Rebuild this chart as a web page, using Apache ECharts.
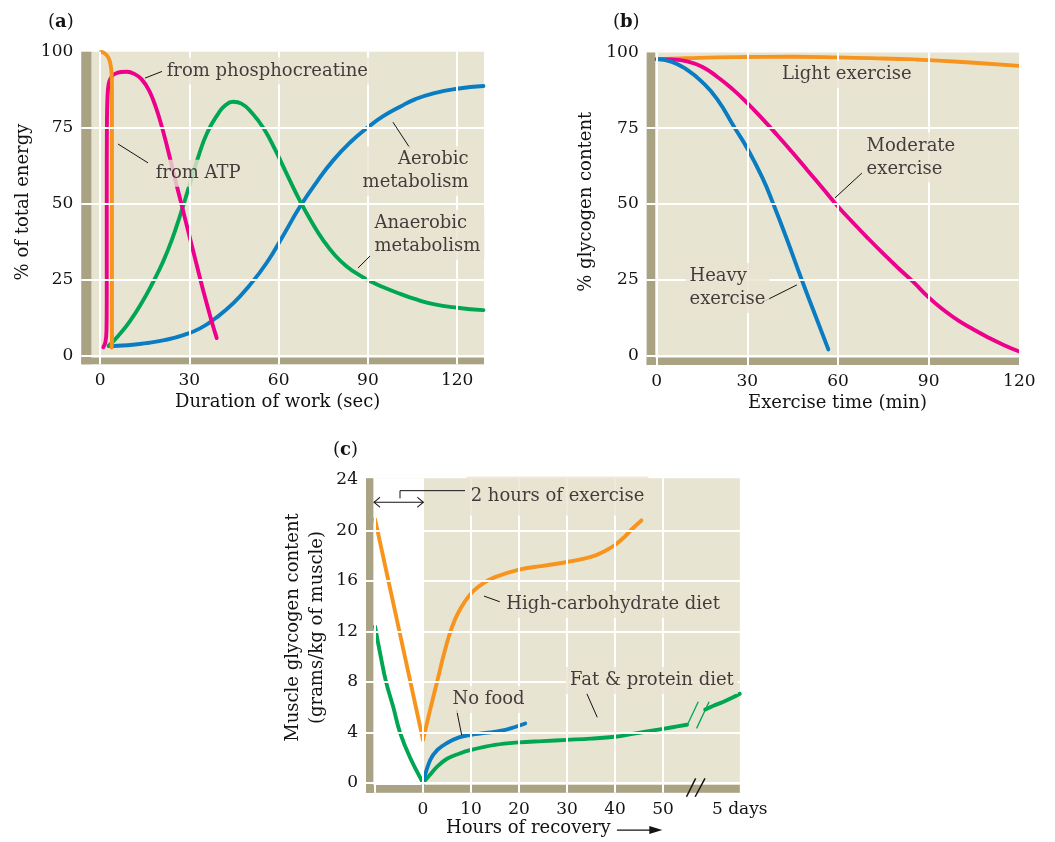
<!DOCTYPE html>
<html><head><meta charset="utf-8">
<script src="https://cdn.jsdelivr.net/npm/echarts@6/dist/echarts.min.js"></script>
<style>html,body{margin:0;padding:0;background:#fff}#c{width:1055px;height:842px}</style>
</head><body><div id="c"></div>
<script>
// ---------- DATA ----------
// Panel (a): % of total energy vs duration of work (sec)
const aXTicks = [0, 30, 60, 90, 120];
const aYTicks = [0, 25, 50, 75, 100];
const aXGrid = [0, 30, 60, 90, 120];
const aYGrid = [0, 25, 50, 75];
const fromATP = [[0.3,100],[1.5,99.6],[2.7,98.3],[3.5,96],[3.9,92.5],[4.0,87],[4.0,70],[4.0,40],[4.0,15],[4.0,5],[3.85,2.7]];
const fromPhosphocreatine = [[1.1,2.8],[1.8,4.5],[2.15,8],[2.25,20],[2.25,50],[2.3,75],[2.5,85],[2.9,89.5],[3.8,91.8],[5,92.8],[7,93.4],[9,93.5],[11.5,92.8],[14,91],[16.5,87.3],[18.5,82.5],[20.5,76.3],[22.5,69],[25,59],[27.5,49.3],[30,39.5],[32.5,29.8],[35,20.2],[37.3,12],[39.2,5.8]];
const anaerobicA = [[2.9,3.2],[6,6.4],[10,11.3],[14,17.4],[18,24.6],[21,30.6],[24,37.8],[27,46.5],[30,56],[33,65.5],[36,73.4],[39.5,79.4],[42,82.4],[44.8,83.6],[47.5,83],[51,80],[55,74.8],[59,67.5],[63,59.3],[67,51.3],[71,44.2],[75,38],[79,33],[83,29.3],[87,26.6],[91,24.4],[95,22.6],[101,20.3],[106,18.6],[112,17],[120,15.8],[128.8,15]];
const aerobicA = [[2.9,3.2],[6,3.3],[11,3.6],[16,4.2],[22,5.2],[28,6.8],[33.6,9],[39,12.5],[44.8,17.3],[50,22.9],[56,30.6],[61.5,39.5],[67.2,49.1],[73,57.5],[78.4,64.4],[84,70.2],[89.6,74.9],[95,78.8],[100.8,82],[106,84.5],[112,86.4],[120,87.9],[128.8,88.8]];

// Panel (b): % glycogen content vs exercise time (min)
const bXTicks = [0, 30, 60, 90, 120];
const bYTicks = [0, 25, 50, 75, 100];
const bXGrid = [0, 30, 60, 90, 120];
const bYGrid = [0, 25, 50, 75];
const lightExercise = [[0,97.8],[10,98.1],[20,98.4],[30,98.5],[45,98.6],[60,98.4],[75,98.0],[90,97.5],[105,96.6],[120,95.6]];
const moderateExercise = [[0,97.8],[5,97.7],[10,97.1],[15,95.3],[20,92],[25,88],[30,83.3],[35,78.1],[40,72.6],[45,66.9],[50,61],[55,55.1],[60,49.2],[65,43.8],[70,38.6],[75,33.6],[80,28.8],[85,24.2],[90,19.2],[95,15],[100,11.4],[105,8.5],[110,5.8],[115,3.4],[120,1.3]];
const heavyExercise = [[0,97.8],[5,96.9],[10,94.3],[15,90.3],[20,84.6],[25.9,75],[30,68.3],[35,58.6],[38.6,50],[43,38.6],[48,25],[52,14.5],[56.8,2]];

// Panel (c): muscle glycogen (g/kg) vs hours of recovery
const cXTicks = [0, 10, 20, 30, 40, 50, 66];
const cXTickLabels = ['0', '10', '20', '30', '40', '50', '5 days'];
const cYTicks = [0, 4, 8, 12, 16, 20, 24];
const cXGrid = [-10, 0, 10, 20, 30, 40, 50];
const cYGrid = [0, 4, 8, 12, 16, 20];
const highCarbExercise = [[-10,20.9],[0,3.4]];
const highCarbRecovery = [[0,3.4],[1.5,5.8],[3,8.1],[4.5,10.4],[6,12.3],[7.5,13.6],[10,15],[12.5,15.8],[15,16.3],[20,16.9],[25,17.2],[30,17.5],[35,17.9],[38,18.4],[40,18.85],[42,19.5],[43.5,20.1],[45.5,20.8]];
const fatProteinExercise = [[-10,12.4],[-8.8,10],[-7.7,8],[-6.2,6],[-4.8,4],[-2.7,2],[0,0]];
const fatProteinRecovery = [[0,0],[1.5,0.65],[3,1.3],[5,1.9],[7.5,2.3],[10,2.6],[15,3.0],[20,3.2],[25,3.3],[30,3.4],[35,3.5],[40,3.65],[44,3.9],[48,4.15],[52,4.4],[55,4.6]];
const fatProteinDays = [[58.8,5.8],[60.5,6.1],[62.5,6.4],[64.5,6.75],[66,7.05]];
const noFood = [[0,0],[1.5,1.8],[3,2.6],[5,3.15],[7.5,3.6],[10,3.8],[13,3.95],[16,4.1],[19,4.4],[21.3,4.7]];

// ---------- STYLE / LAYOUT ----------
const FONT = 'DejaVu Serif';
const INK = '#141214';
const BEIGE = '#e8e4d2';
const KHAKI = '#a9a384';
const ORANGE = '#f7941e', MAGENTA = '#ec008c', GREEN = '#00a651', BLUE = '#0a7cc2';

const ext = [
  {x:[-6.3,129], y:[-2.83,100.1], leftStrip:-2.92, bottomStrip:-0.66},
  {x:[-3.31,120], y:[-3.14,100], leftStrip:-0.56, bottomStrip:-0.73},
  {x:[-11.875,66], y:[-0.79,24.14], leftStrip:-10.35, bottomStrip:-0.18}
];

function curve(g, data, color, smooth) {
  return {type:'line', xAxisIndex:g, yAxisIndex:g, data:data, smooth:smooth === undefined ? 0.5 : smooth,
    symbol:'none', silent:true, z:3, lineStyle:{color:color, width:3.9, cap:'round', join:'round'}};
}
function thin(g, data, color, width, extra) {
  return Object.assign({type:'line', xAxisIndex:g, yAxisIndex:g, data:data, symbol:'none', silent:true, z:9,
    lineStyle:{color:color, width:width}}, extra || {});
}
function backdrop(g, white) {
  const e = ext[g];
  const areas = [];
  if (white) areas.push([{coord:[e.leftStrip, e.bottomStrip], itemStyle:{color:'#ffffff'}}, {coord:[0, e.y[1]]}]);
  areas.push([{coord:[e.x[0], e.y[0]], itemStyle:{color:KHAKI}}, {coord:[e.leftStrip, e.y[1]]}]);
  areas.push([{coord:[e.x[0], e.y[0]], itemStyle:{color:KHAKI}}, {coord:[e.x[1], e.bottomStrip]}]);
  return {type:'line', xAxisIndex:g, yAxisIndex:g, data:[], z:1, silent:true,
    markArea:{silent:true, itemStyle:{opacity:1}, data:areas}};
}
function gridLines(g, xs, ys) {
  return {type:'line', xAxisIndex:g, yAxisIndex:g, data:[], z:2, silent:true,
    markLine:{silent:true, symbol:['none','none'], label:{show:false}, animation:false,
      lineStyle:{color:'#ffffff', width:2, type:'solid', opacity:1},
      emphasis:{disabled:true},
      data: xs.map(v => ({xAxis:v})).concat(ys.map(v => ({yAxis:v})))}};
}
function notes(g, items) {
  return {type:'scatter', xAxisIndex:g, yAxisIndex:g, z:10, silent:true, symbolSize:1,
    itemStyle:{color:'transparent'},
    label:{show:true, position:[0,0], formatter:'{b}', verticalAlign:'middle', fontFamily:FONT, fontSize:18,
      color:INK, backgroundColor:BEIGE, padding:[2,4], lineHeight:23},
    data: items.map(it => ({name:it[0], value:[it[1], it[2]], label:Object.assign({align:it[3]}, it[4] || {})}))};
}
function xAxis(g, ticks, labels, name, gap, pad) {
  const e = ext[g];
  return {gridIndex:g, type:'value', min:e.x[0], max:e.x[1],
    axisLine:{show:false}, axisTick:{show:false}, splitLine:{show:false},
    axisLabel:{customValues:ticks, margin:8, fontFamily:FONT, fontSize:17, color:INK,
      formatter: v => { const i = ticks.indexOf(v); return labels && i >= 0 ? labels[i] : String(v); }},
    name:name, nameLocation:'middle', nameGap:gap,
    nameTextStyle:{fontFamily:FONT, fontSize:18, color:INK, padding:pad}};
}
function yAxis(g, ticks, name, gap, pad, lh) {
  const e = ext[g];
  return {gridIndex:g, type:'value', min:e.y[0], max:e.y[1],
    axisLine:{show:false}, axisTick:{show:false}, splitLine:{show:false},
    axisLabel:{customValues:ticks, margin:8, fontFamily:FONT, fontSize:17, color:INK},
    name:name, nameLocation:'middle', nameRotate:90, nameGap:gap,
    nameTextStyle:{fontFamily:FONT, fontSize:18, color:INK, padding:pad, lineHeight:lh || 22}};
}
function panelTitle(letter, left, top) {
  return {text:'({b|' + letter + '})', left:left, top:top, padding:0,
    textStyle:{fontFamily:FONT, fontSize:18, fontWeight:'normal', color:INK,
      rich:{b:{fontFamily:FONT, fontSize:18, fontWeight:'bold', color:INK}}}};
}

const option = {
  animation:false,
  backgroundColor:'#ffffff',
  title:[panelTitle('a', 48, 13), panelTitle('b', 613, 13), panelTitle('c', 333, 441)],
  grid:[
    {left:81.3, top:51.7, width:402.7, height:312.6, show:true, backgroundColor:BEIGE, borderWidth:0},
    {left:646.7, top:52.5, width:372.6, height:312.5, show:true, backgroundColor:BEIGE, borderWidth:0},
    {left:366, top:478.3, width:373.8, height:314.4, show:true, backgroundColor:BEIGE, borderWidth:0}
  ],
  xAxis:[
    xAxis(0, aXTicks, null, 'Duration of work (sec)', 29, [0,10,0,0]),
    xAxis(1, bXTicks, null, 'Exercise time (min)', 29, [0,0,0,9]),
    xAxis(2, cXTicks, cXTickLabels, 'Hours of recovery', 27, [0,49,0,0])
  ],
  yAxis:[
    yAxis(0, aYTicks, '% of total energy', 47, [0,0,0,12]),
    yAxis(1, bYTicks, '% glycogen content', 49, [0,0,0,14]),
    yAxis(2, cYTicks, 'Muscle glycogen content\n(grams/kg of muscle)', 37, [0,0,0,16], 24)
  ],
  series:[
    // panel a
    backdrop(0, false), gridLines(0, aXGrid, aYGrid),
    curve(0, aerobicA, BLUE), curve(0, anaerobicA, GREEN),
    curve(0, fromPhosphocreatine, MAGENTA, 0.4), curve(0, fromATP, ORANGE, 0.4),
    thin(0, [[15.1,91.4],[20.8,93.6]], INK, 1),
    thin(0, [[6.05,69.7],[16.1,63.5]], INK, 1),
    thin(0, [[98.4,76.9],[104.1,68.4]], INK, 1),
    thin(0, [[86.7,28.9],[90.7,32.8]], INK, 1),
    notes(0, [
      ['from phosphocreatine', 21.2, 93.6, 'left'],
      ['from ATP', 17.5, 59.9, 'left'],
      ['Aerobic\nmetabolism', 125.3, 60.6, 'right'],
      ['Anaerobic\nmetabolism', 91.0, 39.6, 'left']
    ]),
    // panel b
    backdrop(1, false), gridLines(1, bXGrid, bYGrid),
    curve(1, lightExercise, ORANGE), curve(1, moderateExercise, MAGENTA), curve(1, heavyExercise, BLUE),
    thin(1, [[59.0,52.0],[67.9,60.2]], INK, 1),
    thin(1, [[35.2,17.7],[46.4,23.3]], INK, 1),
    notes(1, [
      ['Light exercise', 63.1, 92.6, 'center'],
      ['Moderate\nexercise', 68.3, 65.2, 'left'],
      ['Heavy\nexercise', 9.7, 22.1, 'left']
    ]),
    // panel c
    backdrop(2, true), gridLines(2, cXGrid, cYGrid),
    curve(2, highCarbExercise, ORANGE, false), curve(2, highCarbRecovery, ORANGE, 0.4),
    curve(2, fatProteinExercise, GREEN, 0.4), curve(2, fatProteinRecovery, GREEN, 0.4),
    curve(2, fatProteinDays, GREEN, 0.4), curve(2, noFood, BLUE, 0.4),
    thin(2, [[55.06,4.58],[57.35,6.42]], GREEN, 1.3),
    thin(2, [[57.0,4.31],[59.6,6.42]], GREEN, 1.3),
    thin(2, [[54.9,-1.11],[56.8,0.35]], INK, 1.5, {clip:false}),
    thin(2, [[56.7,-1.11],[58.75,0.35]], INK, 1.5, {clip:false}),
    thin(2, [[8.75,23.16],[-4.79,23.16],[-4.79,22.55]], INK, 1),
    thin(2, [
      {value:[-10.2,22.24], symbol:'path://M7,0L0,5L7,10', symbolSize:[6,10], symbolOffset:[3,0]},
      {value:[0.06,22.24], symbol:'path://M0,0L7,5L0,10', symbolSize:[6,10], symbolOffset:[-3,0]}
    ], INK, 1, {showSymbol:true, symbol:'none', itemStyle:{color:'none', borderColor:INK, borderWidth:1}}),
    thin(2, [[40.4,-3.75], {value:[48.5,-3.75], symbol:'triangle', symbolSize:[8,13], symbolRotate:-90}], INK, 1.3,
      {clip:false, showSymbol:true, symbol:'none', itemStyle:{color:INK}}),
    thin(2, [[12.7,14.8],[16.0,14.35]], INK, 1),
    thin(2, [[7.0,5.77],[8.06,3.78]], INK, 1),
    thin(2, [[34.1,7.09],[36.3,5.19]], INK, 1),
    notes(2, [
      ['2 hours of exercise', 9.2, 22.7, 'left', {padding:[2,4,14,4]}],
      ['High-carbohydrate diet', 16.6, 14.1, 'left'],
      ['No food', 5.4, 6.56, 'left'],
      ['Fat & protein diet', 29.9, 8.07, 'left']
    ])
  ]
};

const chart = echarts.init(document.getElementById('c'), null, {renderer:'canvas'});
chart.setOption(option);
</script></body></html>
